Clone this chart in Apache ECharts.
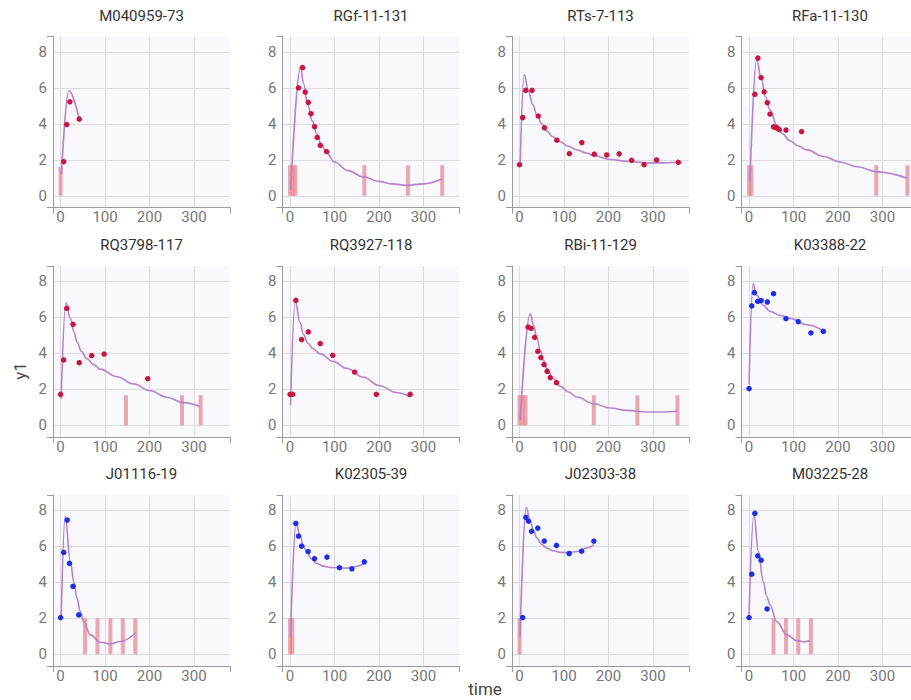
<!DOCTYPE html>
<html><head><meta charset="utf-8">
<script src="https://cdn.jsdelivr.net/npm/echarts@6/dist/echarts.min.js"></script>
<style>html,body{margin:0;padding:0;background:#fff}#chart{width:911px;height:700px}</style>
</head><body><div id="chart"></div>
<script>
const titles = ['M040959-73','RGf-11-131','RTs-7-113','RFa-11-130','RQ3798-117','RQ3927-118','RBi-11-129','K03388-22','J01116-19','K02305-39','J02303-38','M03225-28'];
const xTicks = [0, 100, 200, 300];
const yTicks = [0, 2, 4, 6, 8];
const xRange = [-17, 381];
const yRange = [-0.65, 8.85];
const xTitle = 'time';
const yTitle = 'y1';

const obs1 = [[7,1.9],[14,3.96],[21,5.22],[42,4.26]];
const obs2 = [[19,6.0],[28,7.12],[34,5.76],[41,5.19],[47,4.56],[55,3.84],[61,3.24],[68,2.8],[82,2.46]];
const obs3 = [[0,1.73],[7,4.35],[14,5.86],[28,5.86],[42,4.43],[56,3.78],[84,3.09],[112,2.34],[140,2.96],[168,2.31],[196,2.27],[224,2.33],[252,1.97],[280,1.73],[308,1.99],[357,1.86]];
const obs4 = [[13,5.64],[20,7.65],[27,6.57],[34,5.77],[41,5.17],[47,4.54],[55,3.83],[59,3.8],[63,3.76],[68,3.67],[83,3.65],[118,3.57]];
const obs5 = [[0,1.72],[7,3.63],[14,6.5],[28,5.61],[42,3.48],[70,3.87],[98,3.96],[196,2.59]];
const obs6 = [[0,1.72],[6,1.72],[13,6.94],[26,4.76],[41,5.19],[68,4.54],[96,3.89],[145,2.96],[194,1.72],[270,1.72]];
const obs7 = [[19,5.46],[26,5.39],[34,4.89],[41,4.11],[48,3.76],[55,3.37],[62,3.0],[69,2.65],[83,2.37]];
const obs8 = [[0,2.04],[6,6.63],[12,7.37],[19.5,6.89],[27,6.93],[41,6.85],[55,7.31],[83,5.93],[110.5,5.76],[139,5.13],[167,5.22]];
const obs9 = [[0,2.04],[7,5.66],[15,7.46],[20,5.05],[28,3.78],[41,2.19]];
const obs10 = [[13,7.27],[19,6.57],[26,6.01],[40.5,5.71],[55,5.31],[83,5.4],[111,4.81],[139,4.75],[167,5.14]];
const obs11 = [[7,2.04],[14,7.61],[20,7.4],[27,6.83],[41,7.01],[55.5,6.29],[83,6.05],[111.5,5.6],[139.5,5.73],[167,6.29]];
const obs12 = [[0,2.04],[6,4.45],[13,7.83],[19.5,5.47],[27,5.23],[40.5,2.52]];

const fit1 = [[2,1.2],[18.5,5.84],[42,4.25]];
const fit2 = [[1.5,0.32],[24,7.2],[30,6.25],[40,5.05],[50,4.15],[60,3.45],[70,2.85],[82,2.4],[100,1.88],[130,1.4],[165,1.05],[200,0.8],[230,0.66],[262,0.58],[300,0.66],[341,0.93]];
const fit3 = [[1.5,1.8],[10.5,6.73],[20,5.8],[30,5.05],[39,4.5],[50,4.0],[61,3.6],[75,3.28],[91,3.0],[110,2.75],[129,2.55],[150,2.38],[166,2.24],[204,2.02],[242,1.92],[286,1.83],[316,1.83],[356,1.86]];
const fit4 = [[2,0.74],[17,7.57],[28,6.46],[37,5.5],[47,4.78],[62,3.94],[75,3.45],[92,3.06],[110,2.78],[130,2.55],[168,2.18],[205,1.88],[243,1.61],[288,1.33],[356,0.97]];
const fit5 = [[1.5,1.48],[12,6.81],[22,5.93],[30,5.2],[37,4.63],[47,4.1],[59,3.7],[75,3.37],[89,3.12],[127,2.7],[164,2.3],[202,1.92],[239,1.56],[277,1.26],[313,1.05]];
const fit6 = [[1,1.11],[12,6.89],[22,5.74],[30,5.05],[40,4.56],[52,4.25],[67,3.98],[97,3.55],[127,3.17],[164,2.68],[201,2.2],[239,1.82],[270,1.57]];
const fit7 = [[1.5,0.28],[24,6.2],[31.5,5.56],[39,4.85],[46.5,4.17],[54,3.6],[61.5,3.15],[75,2.6],[91.5,2.17],[110,1.85],[129,1.57],[166.5,1.2],[204,0.96],[241.5,0.83],[286.5,0.74],[316.5,0.74],[355.5,0.78]];
const fit8 = [[0,2.26],[9,7.87],[17,7.22],[32,6.67],[47,6.33],[70,6.11],[92.5,5.93],[130,5.59],[167,5.24]];
const fit9 = [[1.5,2.1],[10.5,7.66],[22,5.16],[30,4.0],[37,3.12],[44,2.4],[52,1.82],[67,1.08],[89,0.67],[112,0.58],[134,0.71],[168,1.17]];
const fit10 = [[1,0.98],[13.5,7.29],[22,6.64],[30,6.05],[37,5.71],[48,5.3],[59,5.06],[75,4.9],[89.5,4.82],[127,4.79],[167,5.03]];
const fit11 = [[1,0.98],[15,8.16],[24,7.38],[31,6.9],[39,6.46],[50,6.1],[61.5,5.9],[75,5.75],[91.5,5.66],[110,5.65],[129,5.71],[150,5.9],[167,6.09]];
const fit12 = [[0,2.19],[11,7.76],[21,5.71],[32,4.04],[40,3.2],[47,2.75],[62,1.82],[85,1.08],[107.5,0.76],[125,0.7],[137.5,0.76]];

const dose1 = [[0,1.6]];
const dose2 = [[0,1.7],[6,1.7],[12,1.7],[167,1.7],[265,1.7],[342,1.7]];
const dose3 = [];
const dose4 = [[0,1.7],[5,1.7],[286,1.7],[356,1.7]];
const dose5 = [[147,1.67],[273,1.67],[315,1.67]];
const dose6 = [];
const dose7 = [[0,1.67],[7,1.67],[13.5,1.67],[167,1.67],[265,1.67],[355,1.67]];
const dose8 = [];
const dose9 = [[55,2],[83,2],[112,2],[140,2],[168,2]];
const dose10 = [[0,2],[5,2]];
const dose11 = [[0,2]];
const dose12 = [[55,2],[83,2],[110.5,2],[139,2]];

const groupColors = ['#c8163e','#c8163e','#c8163e','#c8163e','#c8163e','#c8163e','#c8163e','#1a2fe8','#1a2fe8','#1a2fe8','#1a2fe8','#1a2fe8'];

const obsAll = [obs1,obs2,obs3,obs4,obs5,obs6,obs7,obs8,obs9,obs10,obs11,obs12];
const fitAll = [fit1,fit2,fit3,fit4,fit5,fit6,fit7,fit8,fit9,fit10,fit11,fit12];
const doseAll = [dose1,dose2,dose3,dose4,dose5,dose6,dose7,dose8,dose9,dose10,dose11,dose12];

// layout
const colLeft = [53, 282.5, 512, 741.5];
const rowTop = [36.5, 266, 495];
const gw = 177, gh = 171;
const FONT = 'Roboto, "Noto Sans", sans-serif';
const axisColor = '#9a9a9a';
const gridColor = '#dcdcdc';

const grid = [], xAxis = [], yAxis = [], series = [], graphic = [];
const n = titles.length;
const xStep = xTicks[1] - xTicks[0];
const yStep = yTicks[1] - yTicks[0];

for (let i = 0; i < n; i++) {
  const r = Math.floor(i / 4), c = i % 4;
  grid.push({left: colLeft[c], top: rowTop[r], width: gw, height: gh, show: true,
    backgroundColor: '#f8f8fd', borderWidth: 0, containLabel: false, outerBoundsMode: 'none'});
  graphic.push({type: 'text', x: colLeft[c] + gw / 2, y: rowTop[r] - 21, silent: true,
    style: {text: titles[i], textAlign: 'center', textVerticalAlign: 'middle', fill: '#333',
      font: '15px ' + FONT}});
}
for (let i = 0; i < n; i++) {
  xAxis.push({type: 'value', gridIndex: i, position: 'bottom', min: xRange[0], max: xRange[1],
    minInterval: xStep, maxInterval: xStep,
    axisLine: {show: true, onZero: false, lineStyle: {color: axisColor, width: 1}},
    axisTick: {show: false},
    axisLabel: {show: true, showMinLabel: false, showMaxLabel: false, margin: 2, color: '#777', fontSize: 15, fontFamily: FONT},
    splitLine: {show: true, showMinLine: false, showMaxLine: false, lineStyle: {color: gridColor, width: 1}}});
  yAxis.push({type: 'value', gridIndex: i, position: 'left', min: yRange[0], max: yRange[1],
    minInterval: yStep, maxInterval: yStep,
    axisLine: {show: true, onZero: false, lineStyle: {color: axisColor, width: 1}},
    axisTick: {show: false},
    axisLabel: {show: true, showMinLabel: false, showMaxLabel: false, margin: 6, color: '#777', fontSize: 15, fontFamily: FONT},
    splitLine: {show: true, showMinLine: false, showMaxLine: false, lineStyle: {color: gridColor, width: 1}}});
}
// end ticks of the axis domains
for (let i = 0; i < n; i++) {
  xAxis.push({type: 'value', gridIndex: i, position: 'bottom', min: xRange[0], max: xRange[1],
    axisLine: {show: false, onZero: false}, axisLabel: {show: false}, splitLine: {show: false},
    axisTick: {show: true, customValues: xRange.slice(), length: 6, lineStyle: {color: axisColor}}});
  yAxis.push({type: 'value', gridIndex: i, position: 'left', min: yRange[0], max: yRange[1],
    axisLine: {show: false, onZero: false}, axisLabel: {show: false}, splitLine: {show: false},
    axisTick: {show: true, customValues: yRange.slice(), length: 6, lineStyle: {color: axisColor}}});
}
for (let i = 0; i < n; i++) {
  series.push({type: 'bar', xAxisIndex: i, yAxisIndex: i, data: doseAll[i], barWidth: 4, z: 1,
    itemStyle: {color: 'rgba(228,118,124,0.62)'}, silent: true});
  series.push({type: 'line', xAxisIndex: i, yAxisIndex: i, data: fitAll[i], showSymbol: false, symbol: 'none',
    smooth: 0.4, smoothMonotone: 'x', z: 2, silent: true,
    lineStyle: {color: '#b682cf', width: 1.6}});
  series.push({type: 'scatter', xAxisIndex: i, yAxisIndex: i, data: obsAll[i], symbolSize: 5.5, z: 3, silent: true,
    itemStyle: {color: groupColors[i], opacity: 1}});
}
graphic.push({type: 'text', x: 485, y: 689, silent: true,
  style: {text: xTitle, textAlign: 'center', textVerticalAlign: 'middle', fill: '#444', font: '17px ' + FONT}});
graphic.push({type: 'text', x: 20, y: 371, rotation: Math.PI / 2, silent: true,
  style: {text: yTitle, textAlign: 'center', textVerticalAlign: 'middle', fill: '#444', font: '17px ' + FONT}});

const chart = echarts.init(document.getElementById('chart'), null, {renderer: 'svg', width: 911, height: 700});
chart.setOption({animation: false, backgroundColor: '#ffffff', grid, xAxis, yAxis, series, graphic});
</script></body></html>
